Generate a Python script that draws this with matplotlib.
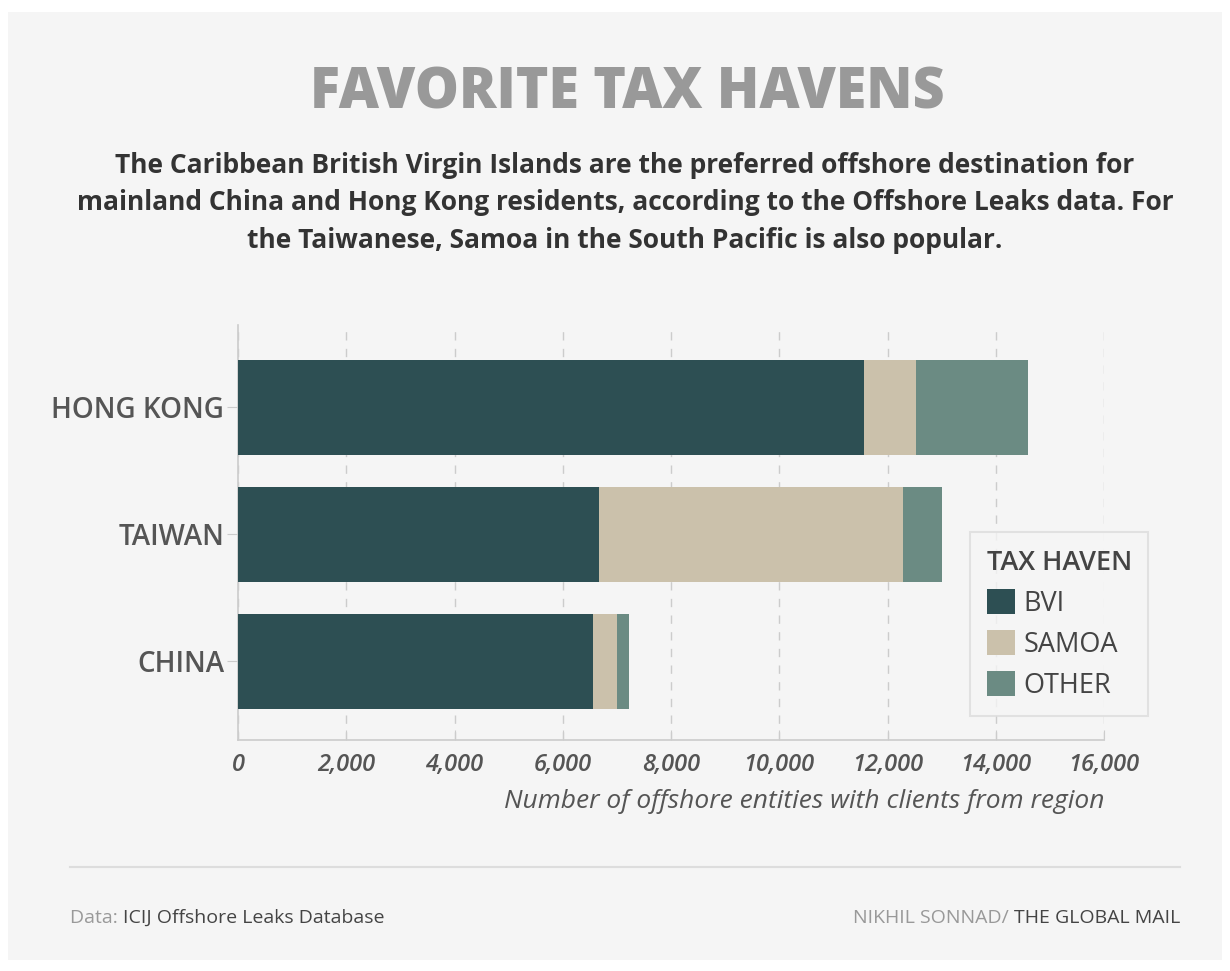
import matplotlib
matplotlib.use("Agg")
import numpy as np
import matplotlib.pyplot as plt
from matplotlib.patches import Rectangle, Patch
from matplotlib.lines import Line2D

# Datos
regiones = ["CHINA", "TAIWAN", "HONG KONG"]
bvi = [6550, 6665, 11570]
samoa = [455, 5615, 955]
otros = [220, 720, 2070]
series = ["BVI", "SAMOA", "OTHER"]
colores = ["#2d4f53", "#cbc1ab", "#6b8b83"]
xticks = [0, 2000, 4000, 6000, 8000, 10000, 12000, 14000, 16000]

plt.rcParams['font.family'] = ['Open Sans', 'DejaVu Sans']

fig = plt.figure(figsize=(12.3, 9.71), dpi=100)
fig.patch.set_facecolor("white")
fondo = Rectangle((8 / 1230, 1 - 960 / 971), 1214 / 1230, 948 / 971,
                  transform=fig.transFigure, facecolor="#f5f5f5",
                  edgecolor="none", zorder=-10)
fig.patches.append(fondo)

ax = fig.add_axes([238 / 1230, 1 - 740 / 971, 866 / 1230, 415 / 971])
ax.set_facecolor("none")

y = np.arange(len(regiones))
alto = 0.75
izq = np.zeros(len(regiones))
for vals, nombre, color in zip([bvi, samoa, otros], series, colores):
    ax.barh(y, vals, left=izq, height=alto, color=color, label=nombre, zorder=3)
    izq = izq + np.array(vals)

ax.set_xlim(0, 16000)
ax.set_ylim(-0.62, 2.65)
ax.set_xticks(xticks)
ax.set_xticklabels([f"{v:,}" for v in xticks], fontsize=17, style="italic",
                   fontweight="semibold", color="#555555")
ax.set_yticks(y)
ax.set_yticklabels(regiones, fontsize=20, fontweight="semibold", color="#555555")
ax.tick_params(axis="y", length=8, color="#cccccc", pad=2)
ax.tick_params(axis="x", direction="in", length=7, color="#cccccc", pad=9)

ax.grid(axis="x", color="#cccccc", linestyle=(0, (6, 6)), linewidth=1, zorder=0)
for lado in ["top", "right"]:
    ax.spines[lado].set_visible(False)
ax.spines["left"].set_color("#cccccc")
ax.spines["bottom"].set_color("#cccccc")
ax.spines["left"].set_linewidth(1.2)
ax.spines["bottom"].set_linewidth(1.2)

ax.set_xlabel("Number of offshore entities with clients from region", fontsize=19,
              style="italic", color="#555555", loc="right", labelpad=9)

handles = [Patch(facecolor=c, edgecolor="none") for c in colores]
leg = ax.legend(handles, series, title="TAX HAVEN", loc="lower right",
                bbox_to_anchor=(1.051, 0.058), borderaxespad=0, fontsize=19.5,
                title_fontproperties={"size": 19.5, "weight": "semibold"},
                frameon=True, fancybox=False, handlelength=1.05, handleheight=1.05,
                handletextpad=0.3, labelspacing=0.45, borderpad=0.6,
                alignment="left")
leg.get_frame().set_edgecolor("#dddddd")
leg.get_frame().set_facecolor("#f5f5f5")
leg.get_frame().set_linewidth(1.5)
leg.get_title().set_color("#444444")
for t in leg.get_texts():
    t.set_color("#444444")

# Titulos
fig.text(627 / 1230, 1 - 94 / 971, "FAVORITE TAX HAVENS", ha="center", va="center",
         fontsize=40, fontweight="heavy", color="#999999")
subtitulo = ("The Caribbean British Virgin Islands are the preferred offshore destination for\n"
             "mainland China and Hong Kong residents, according to the Offshore Leaks data. For\n"
             "the Taiwanese, Samoa in the South Pacific is also popular.")
fig.text(625 / 1230, 1 - 203 / 971, subtitulo, ha="center", va="center",
         fontsize=19, fontweight="bold", color="#333333", linespacing=1.5)

# Pie
fig.add_artist(Line2D([70 / 1230, 1180 / 1230], [1 - 867 / 971, 1 - 867 / 971],
                      transform=fig.transFigure, color="#dddddd", linewidth=1.5))

fig.canvas.draw()
r = fig.canvas.get_renderer()
yp = 1 - 918 / 971
t1 = fig.text(70 / 1230, yp, "Data: ", ha="left", va="center", fontsize=14, color="#999999")
bb = t1.get_window_extent(r)
fig.text(bb.x1 / 1230, yp, "ICIJ Offshore Leaks Database", ha="left", va="center",
         fontsize=14, color="#444444")
t3 = fig.text(1180 / 1230, yp, "THE GLOBAL MAIL", ha="right", va="center", fontsize=14,
              color="#444444")
bb3 = t3.get_window_extent(r)
fig.text(bb3.x0 / 1230, yp, "NIKHIL SONNAD/ ", ha="right", va="center", fontsize=14,
         color="#999999")

fig.savefig("out.png", dpi=100, facecolor=fig.get_facecolor())
